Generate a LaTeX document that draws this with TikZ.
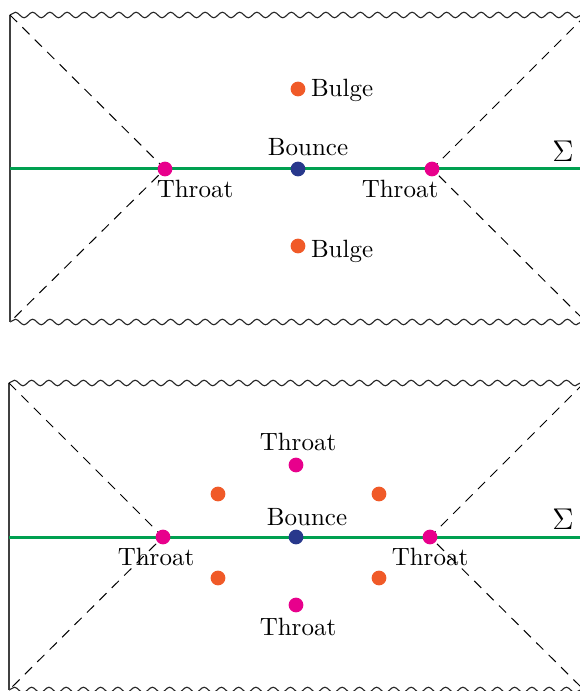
\documentclass[tikz,border=0pt]{standalone}
\usetikzlibrary{decorations.pathmorphing,backgrounds}

\definecolor{sigmagreen}{RGB}{0,160,80}
\definecolor{throatpink}{RGB}{232,0,140}
\definecolor{bounceblue}{RGB}{40,56,140}
\definecolor{bulgeorange}{RGB}{240,90,40}

\tikzset{
  dot/.style={circle, inner sep=0pt, minimum size=5.9pt},
  lbl/.style={inner sep=1pt},
  sing/.style={decorate, decoration={snake, segment length=6.9pt, amplitude=1.1pt}, line width=0.45pt, black!85},
  edge/.style={line width=0.7pt, black!75},
  horizon/.style={dash pattern=on 4pt off 3pt, line width=0.4pt},
  slice/.style={sigmagreen, line width=1.2pt}
}

\begin{document}
\begin{tikzpicture}[x=0.4pt, y=-0.4pt]
  \useasboundingbox (0,0) rectangle (579,691);
  \clip (0,0) rectangle (579,691);

  % top panel
  \coordinate (a1) at (10,15);
  \coordinate (a2) at (586,15);
  \coordinate (a3) at (10,322);
  \coordinate (a4) at (586,322);
  \coordinate (al) at (10,169);
  \coordinate (ar) at (586,169);

  \node[dot, fill=throatpink] (at1) at (165,169) {};
  \node[dot, fill=throatpink] (at2) at (432,169) {};
  \node[dot, fill=bounceblue] (ab) at (298,169) {};
  \node[dot, fill=bulgeorange] (ag1) at (298,89) {};
  \node[dot, fill=bulgeorange] (ag2) at (298,246) {};

  \node[lbl] (atl1) at (195,189) {Throat};
  \node[lbl] (atl2) at (400,189) {Throat};
  \node[lbl] (abl) at (308,147) {Bounce};
  \node[lbl, anchor=west] (agl1) at (308,90) {Bulge};
  \node[lbl, anchor=west] (agl2) at (308,251) {Bulge};
  \node[lbl] (asig) at (563,151) {\large$\Sigma$};

  \begin{scope}[on background layer]
    \draw[sing] (a1) -- (a2);
    \draw[sing] (a3) -- (a4);
    \draw[edge] (a1) -- (a3);
    \draw[horizon] (a1) -- (at1.center) -- (a3);
    \draw[horizon] (a2) -- (at2.center) -- (a4);
    \draw[slice] (al) -- (ar);
  \end{scope}

  % bottom panel
  \coordinate (b1) at (9,383);
  \coordinate (b2) at (584,383);
  \coordinate (b3) at (9,690);
  \coordinate (b4) at (584,690);
  \coordinate (bl) at (9,537);
  \coordinate (br) at (584,537);

  \node[dot, fill=throatpink] (bt1) at (163,537) {};
  \node[dot, fill=throatpink] (bt2) at (430,537) {};
  \node[dot, fill=throatpink] (bt3) at (296,465) {};
  \node[dot, fill=throatpink] (bt4) at (296,605) {};
  \node[dot, fill=bounceblue] (bb) at (296,537) {};
  \node[dot, fill=bulgeorange] (bg1) at (218,494) {};
  \node[dot, fill=bulgeorange] (bg2) at (379,494) {};
  \node[dot, fill=bulgeorange] (bg3) at (218,578) {};
  \node[dot, fill=bulgeorange] (bg4) at (379,578) {};

  \node[lbl] (btl1) at (156,557) {Throat};
  \node[lbl] (btl2) at (430,557) {Throat};
  \node[lbl] (btl3) at (298,442) {Throat};
  \node[lbl] (btl4) at (298,627) {Throat};
  \node[lbl] (bbl) at (307,517) {Bounce};
  \node[lbl] (bsig) at (563,519) {\large$\Sigma$};

  \begin{scope}[on background layer]
    \draw[sing] (b1) -- (b2);
    \draw[sing] (b3) -- (b4);
    \draw[edge] (b1) -- (b3);
    \draw[horizon] (b1) -- (bt1.center) -- (b3);
    \draw[horizon] (b2) -- (bt2.center) -- (b4);
    \draw[slice] (bl) -- (br);
  \end{scope}
\end{tikzpicture}
\end{document}
